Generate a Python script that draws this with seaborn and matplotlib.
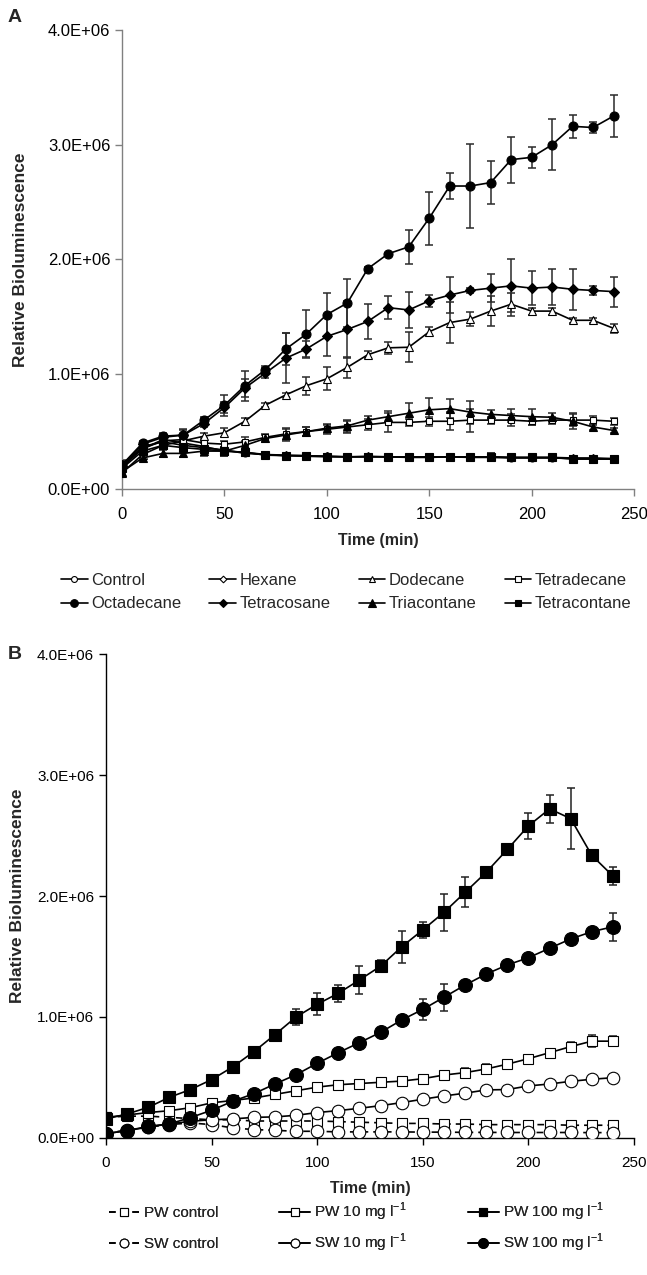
import numpy as np
import pandas as pd
import matplotlib
matplotlib.use("Agg")
import matplotlib.pyplot as plt
import seaborn as sns
from matplotlib.ticker import FuncFormatter

# time points (min)
time_min = list(range(0, 250, 10))

# ---- panel A : alkanes (values in units of 1E+06) ----
control = [0.20, 0.37, 0.41, 0.38, 0.36, 0.34, 0.31, 0.30, 0.29, 0.29, 0.285, 0.28, 0.28,
           0.28, 0.275, 0.275, 0.28, 0.275, 0.275, 0.27, 0.27, 0.27, 0.265, 0.265, 0.26]
hexane = [0.22, 0.35, 0.43, 0.40, 0.37, 0.33, 0.32, 0.30, 0.295, 0.29, 0.285, 0.28, 0.285,
          0.28, 0.28, 0.28, 0.28, 0.28, 0.28, 0.275, 0.275, 0.275, 0.27, 0.27, 0.265]
dodecane = [0.14, 0.30, 0.38, 0.42, 0.46, 0.49, 0.59, 0.73, 0.82, 0.90, 0.96, 1.06, 1.17,
            1.23, 1.235, 1.37, 1.45, 1.48, 1.55, 1.61, 1.55, 1.55, 1.47, 1.47, 1.40]
tetradecane = [0.19, 0.35, 0.42, 0.43, 0.40, 0.39, 0.41, 0.45, 0.48, 0.50, 0.52, 0.54, 0.56,
               0.58, 0.58, 0.59, 0.59, 0.60, 0.60, 0.60, 0.59, 0.60, 0.60, 0.60, 0.59]
octadecane = [0.21, 0.40, 0.46, 0.47, 0.60, 0.73, 0.90, 1.04, 1.22, 1.35, 1.52, 1.62, 1.92,
              2.05, 2.11, 2.36, 2.64, 2.64, 2.67, 2.87, 2.89, 3.00, 3.16, 3.15, 3.25]
tetracosane = [0.20, 0.39, 0.45, 0.47, 0.57, 0.71, 0.88, 1.01, 1.14, 1.22, 1.33, 1.39, 1.46,
               1.58, 1.56, 1.64, 1.69, 1.73, 1.75, 1.77, 1.75, 1.76, 1.74, 1.73, 1.72]
triacontane = [0.15, 0.27, 0.31, 0.31, 0.33, 0.33, 0.38, 0.44, 0.47, 0.50, 0.53, 0.55, 0.60,
               0.63, 0.66, 0.69, 0.70, 0.67, 0.65, 0.64, 0.63, 0.625, 0.59, 0.54, 0.51]
tetracontane = [0.18, 0.33, 0.38, 0.36, 0.345, 0.33, 0.32, 0.295, 0.29, 0.285, 0.28, 0.28, 0.28,
                0.28, 0.28, 0.28, 0.28, 0.28, 0.28, 0.275, 0.275, 0.275, 0.26, 0.26, 0.26]

control_err = [0.03, 0.02, 0.02, 0.03, 0.04, 0.03, 0.02, 0.02, 0.01, 0.01, 0.02, 0.02, 0.02,
               0.02, 0.02, 0.02, 0.01, 0.01, 0.03, 0.01, 0.01, 0.01, 0.02, 0.02, 0.02]
hexane_err = [0.03, 0.02, 0.03, 0.04, 0.05, 0.04, 0.02, 0.02, 0.01, 0.01, 0.01, 0.02, 0.02,
              0.01, 0.02, 0.02, 0.01, 0.01, 0.03, 0.01, 0.02, 0.01, 0.02, 0.02, 0.02]
dodecane_err = [0.02, 0.03, 0.03, 0.03, 0.03, 0.04, 0.03, 0.02, 0.02, 0.08, 0.10, 0.09, 0.03,
                0.05, 0.13, 0.04, 0.18, 0.06, 0.13, 0.10, 0.03, 0.03, 0.02, 0.02, 0.04]
tetradecane_err = [0.03, 0.02, 0.03, 0.04, 0.04, 0.03, 0.04, 0.03, 0.05, 0.04, 0.04, 0.05, 0.05,
                   0.08, 0.03, 0.04, 0.08, 0.10, 0.03, 0.05, 0.03, 0.03, 0.05, 0.04, 0.03]
octadecane_err = [0.03, 0.02, 0.03, 0.05, 0.03, 0.09, 0.13, 0.03, 0.14, 0.21, 0.19, 0.21, 0.01,
                  0.01, 0.15, 0.23, 0.11, 0.37, 0.19, 0.20, 0.09, 0.22, 0.10, 0.05, 0.18]
tetracosane_err = [0.03, 0.02, 0.03, 0.04, 0.03, 0.05, 0.08, 0.04, 0.22, 0.07, 0.17, 0.25, 0.15,
                   0.10, 0.16, 0.05, 0.16, 0.02, 0.12, 0.23, 0.15, 0.16, 0.18, 0.04, 0.13]
triacontane_err = [0.02, 0.03, 0.03, 0.03, 0.04, 0.04, 0.04, 0.03, 0.05, 0.04, 0.04, 0.05, 0.04,
                   0.05, 0.09, 0.10, 0.08, 0.10, 0.04, 0.06, 0.07, 0.04, 0.07, 0.03, 0.02]
tetracontane_err = [0.03, 0.02, 0.02, 0.03, 0.03, 0.02, 0.02, 0.02, 0.01, 0.01, 0.01, 0.02, 0.02,
                    0.01, 0.02, 0.02, 0.01, 0.01, 0.03, 0.01, 0.01, 0.01, 0.02, 0.03, 0.03]

# ---- panel B : PW / SW (values in units of 1E+06) ----
pw_control = [0.17, 0.18, 0.18, 0.17, 0.16, 0.15, 0.15, 0.14, 0.14, 0.14, 0.14, 0.135, 0.13,
              0.125, 0.12, 0.12, 0.115, 0.115, 0.11, 0.11, 0.11, 0.11, 0.105, 0.105, 0.105]
pw_10 = [0.17, 0.19, 0.21, 0.225, 0.25, 0.29, 0.31, 0.33, 0.36, 0.39, 0.42, 0.44, 0.45,
         0.46, 0.47, 0.49, 0.52, 0.54, 0.57, 0.61, 0.655, 0.705, 0.755, 0.80, 0.80]
pw_100 = [0.157, 0.198, 0.253, 0.336, 0.40, 0.482, 0.587, 0.713, 0.854, 1.0, 1.105, 1.196, 1.306,
          1.42, 1.58, 1.72, 1.865, 2.03, 2.196, 2.385, 2.58, 2.72, 2.64, 2.336, 2.165]
sw_control = [0.04, 0.065, 0.09, 0.11, 0.124, 0.11, 0.083, 0.069, 0.063, 0.055, 0.055, 0.05, 0.05,
              0.05, 0.05, 0.048, 0.048, 0.046, 0.046, 0.045, 0.045, 0.045, 0.045, 0.044, 0.044]
sw_10 = [0.036, 0.06, 0.09, 0.116, 0.138, 0.15, 0.157, 0.17, 0.174, 0.187, 0.21, 0.226, 0.245,
         0.267, 0.292, 0.32, 0.347, 0.37, 0.397, 0.40, 0.43, 0.446, 0.468, 0.485, 0.498]
sw_100 = [0.036, 0.06, 0.096, 0.116, 0.168, 0.229, 0.303, 0.366, 0.446, 0.523, 0.617, 0.705, 0.788,
          0.873, 0.975, 1.063, 1.163, 1.264, 1.355, 1.43, 1.49, 1.568, 1.645, 1.705, 1.746]

pw_control_err = [0.01, 0.01, 0.01, 0.01, 0.01, 0.01, 0.01, 0.01, 0.01, 0.01, 0.01, 0.01, 0.01,
                  0.01, 0.01, 0.01, 0.01, 0.01, 0.01, 0.01, 0.01, 0.01, 0.01, 0.01, 0.01]
pw_10_err = [0.01, 0.01, 0.01, 0.01, 0.01, 0.01, 0.01, 0.01, 0.02, 0.02, 0.02, 0.02, 0.03,
             0.03, 0.02, 0.02, 0.02, 0.04, 0.04, 0.03, 0.03, 0.01, 0.04, 0.05, 0.04]
pw_100_err = [0.01, 0.01, 0.01, 0.01, 0.01, 0.01, 0.01, 0.01, 0.01, 0.07, 0.09, 0.07, 0.115,
              0.05, 0.13, 0.065, 0.155, 0.125, 0.02, 0.02, 0.105, 0.115, 0.255, 0.04, 0.073]
sw_control_err = [0.01, 0.01, 0.01, 0.01, 0.01, 0.01, 0.01, 0.01, 0.01, 0.01, 0.01, 0.01, 0.01,
                  0.01, 0.01, 0.01, 0.01, 0.01, 0.01, 0.01, 0.01, 0.01, 0.01, 0.01, 0.01]
sw_10_err = [0.01, 0.01, 0.01, 0.01, 0.01, 0.01, 0.01, 0.01, 0.01, 0.01, 0.01, 0.01, 0.01,
             0.02, 0.01, 0.02, 0.01, 0.02, 0.03, 0.03, 0.01, 0.03, 0.01, 0.02, 0.03]
sw_100_err = [0.01, 0.01, 0.01, 0.01, 0.01, 0.01, 0.01, 0.01, 0.01, 0.01, 0.01, 0.01, 0.01,
              0.01, 0.01, 0.085, 0.11, 0.01, 0.01, 0.01, 0.01, 0.01, 0.01, 0.01, 0.117]

sns.set_style("ticks")
plt.rcParams["font.family"] = ["Liberation Sans", "DejaVu Sans"]
plt.rcParams["mathtext.fontset"] = "custom"
plt.rcParams["mathtext.rm"] = "Liberation Sans"

fig = plt.figure(figsize=(6.47, 12.75), dpi=100)
axA = fig.add_axes([0.1886, 0.6165, 0.7914, 0.36])
axB = fig.add_axes([0.1638, 0.1075, 0.8162, 0.3795])

sci = FuncFormatter(lambda v, p: f"{v:.1E}")


def draw(ax, y, err, label, marker, filled, ms, ls="-", ecol="black"):
    yy = np.array(y) * 1e6
    ee = np.array(err) * 1e6
    ax.errorbar(time_min, yy, yerr=ee, fmt="none", ecolor=ecol, elinewidth=1.1,
                capsize=3, capthick=1.1, zorder=2)
    sns.lineplot(x=time_min, y=yy, ax=ax, color="black", linewidth=1.2, linestyle=ls,
                 marker=marker, markersize=ms, markerfacecolor="black" if filled else "white",
                 markeredgecolor="black", markeredgewidth=0.8, label=label, zorder=3,
                 errorbar=None)


# panel A
series_A = [
    (control, control_err, "Control", "o", False, 5),
    (hexane, hexane_err, "Hexane", "D", False, 4),
    (dodecane, dodecane_err, "Dodecane", "^", False, 5.5),
    (tetradecane, tetradecane_err, "Tetradecane", "s", False, 5),
    (octadecane, octadecane_err, "Octadecane", "o", True, 6.5),
    (tetracosane, tetracosane_err, "Tetracosane", "D", True, 5),
    (triacontane, triacontane_err, "Triacontane", "^", True, 6),
    (tetracontane, tetracontane_err, "Tetracontane", "s", True, 5.5),
]
for s in series_A:
    draw(axA, *s, ecol="#2a2a2a")

# panel B
series_B = [
    (pw_control, pw_control_err, "PW control", "s", False, 7.5, (0, (4, 3))),
    (pw_10, pw_10_err, r"PW 10 mg l$^{-1}$", "s", False, 7.5, "-"),
    (pw_100, pw_100_err, r"PW 100 mg l$^{-1}$", "s", True, 8, "-"),
    (sw_control, sw_control_err, "SW control", "o", False, 9, (0, (4, 3))),
    (sw_10, sw_10_err, r"SW 10 mg l$^{-1}$", "o", False, 9, "-"),
    (sw_100, sw_100_err, r"SW 100 mg l$^{-1}$", "o", True, 10, "-"),
]
for y, e, lab, m, f, ms, ls in series_B:
    draw(axB, y, e, lab, m, f, ms, ls=ls, ecol="#222222")

for ax, col, fs, pad in [(axA, "#808080", 12, 14), (axB, "black", 11, 9)]:
    ax.set_xlim(0, 250)
    ax.set_ylim(0, 4e6)
    ax.set_xticks(range(0, 251, 50))
    ax.set_yticks(np.arange(0, 4.01e6, 1e6))
    ax.yaxis.set_major_formatter(sci)
    ax.spines["top"].set_visible(False)
    ax.spines["right"].set_visible(False)
    for sp in ("left", "bottom"):
        ax.spines[sp].set_color(col)
        ax.spines[sp].set_linewidth(1.0)
    ax.tick_params(axis="both", colors=col, labelcolor="black", labelsize=fs,
                   length=5, width=1.0, direction="out")
    ax.tick_params(axis="x", pad=8)
    ax.set_xlabel("Time (min)", fontsize=11.5, fontweight="bold", labelpad=8)
    ax.set_ylabel("Relative Bioluminescence", fontsize=12.5, fontweight="bold", labelpad=pad)
    ax.legend_.remove()

# legend below panel A, filled row by row
hA, lA = axA.get_legend_handles_labels()
order_A = [0, 4, 1, 5, 2, 6, 3, 7]
fig.legend([hA[i] for i in order_A], [lA[i] for i in order_A], ncol=4,
           loc="center", bbox_to_anchor=(0.535, 0.5355), frameon=False, fontsize=12,
           handlelength=1.6, handletextpad=0.2, columnspacing=1.7, labelspacing=0.5,
           markerscale=0.85)

# legend below panel B: one row per water type
hB, lB = axB.get_legend_handles_labels()
for rows, ypos in [([0, 1, 2], 0.0495), ([3, 4, 5], 0.0253)]:
    leg = fig.legend([hB[i] for i in rows], [lB[i] for i in rows], ncol=3,
                     loc="center", bbox_to_anchor=(0.551, ypos), frameon=False, fontsize=11,
                     handlelength=2.0, handletextpad=0.3, columnspacing=4.0,
                     markerscale=0.7)
    fig.add_artist(leg)

fig.text(0.012, 0.986, "A", fontsize=14, fontweight="bold", va="center")
fig.text(0.012, 0.487, "B", fontsize=14, fontweight="bold", va="center")

fig.savefig("out.png", dpi=100)
